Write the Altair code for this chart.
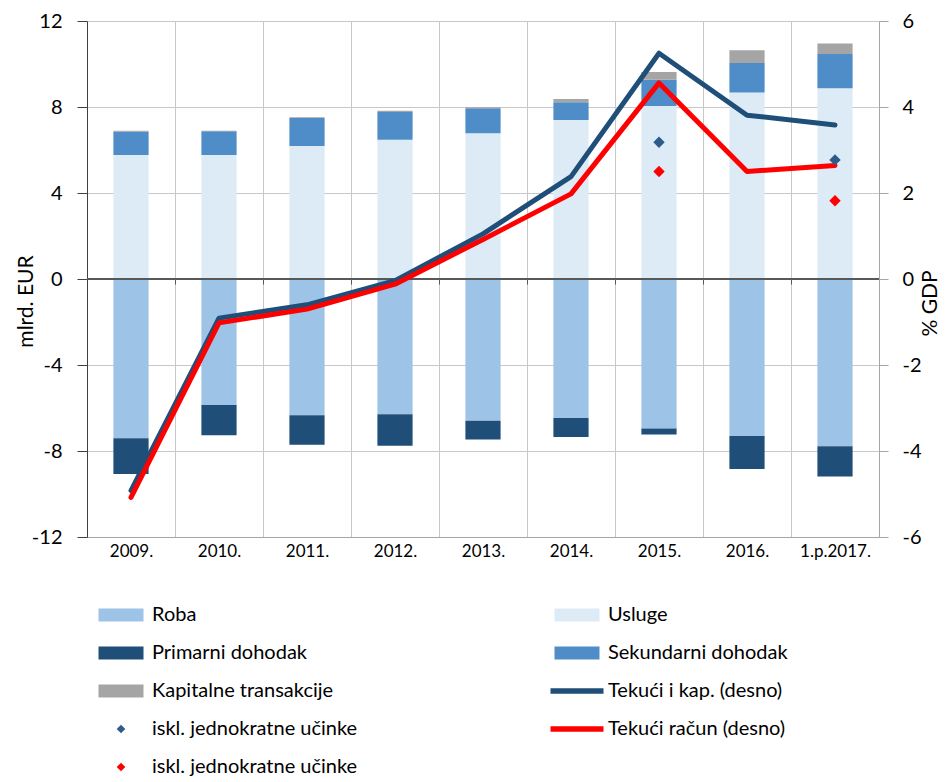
import altair as alt
import pandas as pd

years = ["2009.", "2010.", "2011.", "2012.", "2013.", "2014.", "2015.", "2016.", "1.p.2017."]

# bar components (mlrd. EUR)
roba = [-7.41, -5.86, -6.34, -6.29, -6.59, -6.47, -6.95, -7.30, -7.78]
usluge = [5.77, 5.77, 6.19, 6.48, 6.78, 7.40, 8.05, 8.68, 8.87]
primarni = [-1.66, -1.41, -1.37, -1.47, -0.87, -0.88, -0.28, -1.54, -1.41]
sekundarni = [1.08, 1.10, 1.30, 1.29, 1.16, 0.82, 1.22, 1.37, 1.60]
kapitalne = [0.04, 0.02, 0.03, 0.05, 0.05, 0.15, 0.36, 0.59, 0.48]

# lines (% GDP, right axis)
tekuci_kap = [-4.92, -0.91, -0.60, -0.04, 1.05, 2.38, 5.25, 3.81, 3.58]
tekuci_racun = [-5.08, -1.02, -0.70, -0.12, 0.92, 1.98, 4.56, 2.50, 2.64]
excl_kap = [None, None, None, None, None, None, 3.18, None, 2.77]
excl_racun = [None, None, None, None, None, None, 2.50, None, 1.82]

bar_series = ["Roba", "Usluge", "Primarni dohodak", "Sekundarni dohodak", "Kapitalne transakcije"]
bar_colors = ["#9DC3E6", "#DDEBF7", "#1F4E79", "#4F8DC8", "#A5A5A5"]
stack_rank = [1, 1, 2, 2, 3]

legend_labels = ["Roba", "Usluge", "Primarni dohodak", "Sekundarni dohodak",
                 "Kapitalne transakcije", "Tekući i kap. (desno)",
                 "iskl. jednokratne učinke", "Tekući račun (desno)",
                 "iskl. jednokratne učinke"]
legend_kinds = ["bar", "bar", "bar", "bar", "bar", "line", "point", "line", "point"]
legend_colors = ["#9DC3E6", "#DDEBF7", "#1F4E79", "#4F8DC8", "#A5A5A5",
                 "#1F4E79", "#2E5C8A", "#FF0000", "#FF0000"]

BLUE = "#1F4E79"
RED = "#FF0000"
FONT = "Lato"
W, H = 792, 516

# ---------- tables ----------
rows = []
for s, vals, r in zip(bar_series, [roba, usluge, primarni, sekundarni, kapitalne], stack_rank):
    for y, v in zip(years, vals):
        rows.append({"year": y, "series": s, "value": v, "rank": r})
bar_df = pd.DataFrame(rows)

line_df = pd.DataFrame({"year": years, "kap": tekuci_kap, "racun": tekuci_racun})
pk_df = pd.DataFrame({"year": years, "v": excl_kap}).dropna()
pr_df = pd.DataFrame({"year": years, "v": excl_racun}).dropna()

leg_df = pd.DataFrame({"label": legend_labels, "kind": legend_kinds})
leg_df["key"] = ["k%d" % i for i in range(len(leg_df))]
leg_df["col"] = [i % 2 for i in range(len(leg_df))]
leg_df["row"] = [i // 2 for i in range(len(leg_df))]

PLAIN = "'' + datum.value"

# ---------- bars (left axis) ----------
x_bar = alt.X(
    "year:N", sort=years,
    scale=alt.Scale(type="band", paddingInner=0, paddingOuter=0),
    axis=alt.Axis(title=None, labelAngle=0, labelFont=FONT, labelFontSize=17,
                  labelColor="#000000", labelPadding=6, ticks=False, tickSize=0,
                  tickBand="extent", grid=True, gridColor="#C8C8C8", gridWidth=1,
                  domainColor="#A6A6A6", domainWidth=1),
)
y_left = alt.Y(
    "value:Q", stack="zero",
    scale=alt.Scale(domain=[-12, 12], nice=False, zero=False),
    axis=alt.Axis(values=[-12, -8, -4, 0, 4, 8, 12], title="mlrd. EUR", labelExpr=PLAIN,
                  grid=True, gridColor="#C8C8C8", gridWidth=1,
                  domainColor="#404040", domainWidth=1, tickColor="#404040",
                  tickSize=10, labelPadding=15, labelFont=FONT, labelFontSize=20,
                  labelColor="#000000", titleFont=FONT, titleFontSize=21,
                  titleFontWeight="normal", titleColor="#000000", titleAngle=270,
                  titleBaseline="middle", titleAlign="center", titleX=-61, titleY=280),
)
bars = alt.Chart(bar_df).mark_bar(width=alt.RelativeBandSize(0.4)).encode(
    x=x_bar,
    y=y_left,
    color=alt.Color("series:N", scale=alt.Scale(domain=bar_series, range=bar_colors), legend=None),
    order=alt.Order("rank:Q", sort="ascending"),
)
zero_rule = alt.Chart(bar_df).mark_rule(color="#595959", strokeWidth=1.5).encode(y=alt.datum(0))
bars_group = alt.layer(bars, zero_rule)

# ---------- lines (right axis) ----------
x_line = alt.X(
    "year:N", sort=years,
    scale=alt.Scale(type="band", paddingInner=0, paddingOuter=0),
    axis=alt.Axis(orient="bottom", offset=-H / 2, labels=False, ticks=True, tickSize=5,
                  tickBand="extent", tickColor="#595959", domain=False, grid=False, title=None),
)
y_right_axis = alt.Axis(orient="right", values=[-6, -4, -2, 0, 2, 4, 6], title="% GDP",
                        labelExpr=PLAIN,
                        grid=False, domainColor="#A6A6A6", domainWidth=1,
                        tickColor="#A6A6A6", tickSize=9, labelPadding=14,
                        labelFont=FONT, labelFontSize=20, labelColor="#000000",
                        titleFont=FONT, titleFontSize=21, titleFontWeight="normal",
                        titleColor="#000000", titleAngle=270, titleBaseline="middle",
                        titleAlign="center", titleX=51, titleY=282)
y_scale_r = alt.Scale(domain=[-6, 6], nice=False, zero=False)

line_kap = alt.Chart(line_df).mark_line(color=BLUE, strokeWidth=5, strokeJoin="round", strokeCap="round").encode(
    x=x_line, y=alt.Y("kap:Q", scale=y_scale_r, axis=y_right_axis))
line_rac = alt.Chart(line_df).mark_line(color=RED, strokeWidth=5, strokeJoin="round", strokeCap="round").encode(
    x=x_line, y=alt.Y("racun:Q", scale=y_scale_r, axis=y_right_axis))
pts_kap = alt.Chart(pk_df).mark_point(shape="diamond", filled=True, opacity=1, size=130, color="#2E5C8A").encode(
    x=x_line, y=alt.Y("v:Q", scale=y_scale_r, axis=y_right_axis))
pts_rac = alt.Chart(pr_df).mark_point(shape="diamond", filled=True, opacity=1, size=130, color=RED).encode(
    x=x_line, y=alt.Y("v:Q", scale=y_scale_r, axis=y_right_axis))
lines_group = alt.layer(line_kap, line_rac, pts_kap, pts_rac)

# ---------- legend (built from data) ----------
lx = alt.X("col:Q", scale=alt.Scale(domain=[0, 1], range=[34, 490], zero=False), axis=None)
ly = alt.Y("row:Q", scale=alt.Scale(domain=[0, 4], range=[594, 746], zero=False), axis=None)
leg_color = alt.Color("key:N", scale=alt.Scale(domain=list(leg_df["key"]), range=legend_colors), legend=None)
rect_path = "M-1,-0.29H1V0.29H-1Z"
line_path = "M-1,-0.1H1V0.1H-1Z"


def leg_symbols(kind, shape, size):
    return alt.Chart(leg_df).transform_filter(alt.datum.kind == kind).mark_point(
        filled=True, opacity=1, strokeWidth=0, shape=shape, size=size
    ).encode(x=lx, y=ly, color=leg_color)


leg_bar = leg_symbols("bar", rect_path, 2025)
leg_line = leg_symbols("line", line_path, 2809)
leg_pt = leg_symbols("point", "diamond", 75)
leg_txt = alt.Chart(leg_df).mark_text(align="left", baseline="middle", dx=31, font=FONT,
                                      fontSize=20, color="#000000").encode(
    x=lx, y=ly, text="label:N")
legend_group = alt.layer(leg_bar, leg_line, leg_pt, leg_txt)

chart = alt.layer(bars_group, lines_group, legend_group).resolve_scale(
    x="independent", y="independent", color="independent"
).properties(
    width=W, height=H, padding={"left": 7, "top": 3, "right": 0, "bottom": 0}
).configure_view(stroke=None)

chart.save("out.html", embed_options={"renderer": "svg", "actions": False})
